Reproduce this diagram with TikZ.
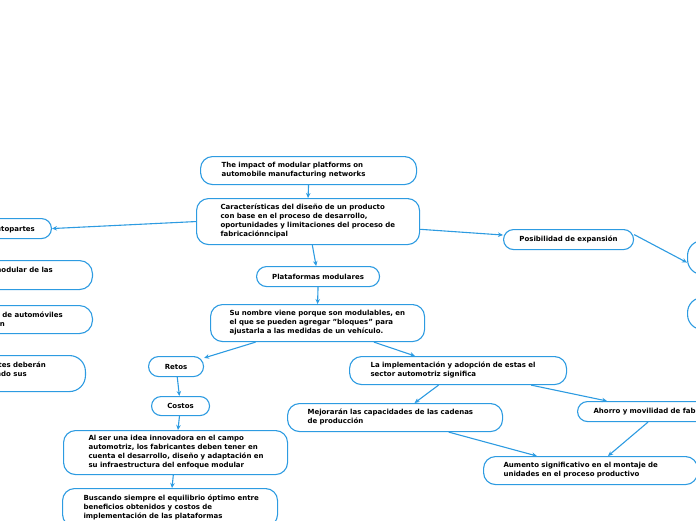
\documentclass[tikz,border=0pt]{standalone}
\usepackage{fontspec}
\setmainfont{DejaVu Sans}
\usetikzlibrary{arrows.meta}
\definecolor{mblue}{RGB}{45,155,225}
\newcommand{\tl}[1]{\begin{tabular}{@{}l@{}}#1\end{tabular}}
\begin{document}
\begin{tikzpicture}[x=1pt,y=-1pt,
  box/.style={draw=mblue, line width=1.1pt, rounded corners=12pt, text=black,
    font=\bfseries\fontsize{7}{8.9}\selectfont, align=left, anchor=north west, inner ysep=0pt},
  cbox/.style={box, align=center},
  ebox/.style={draw=mblue, line width=1.1pt, rounded corners=13pt, inner sep=0pt},
  frag/.style={font=\bfseries\fontsize{7}{8.9}\selectfont, inner sep=0pt, anchor=base east},
  conn/.style={draw=mblue, line width=1.1pt, -{Stealth[length=5pt,width=4.5pt]}}]
\path[use as bounding box, clip] (0,0) rectangle (696,520);

\node[box, minimum height=28pt, inner xsep=21pt, text width=174pt] (title) at (200,156)
  {\tl{The impact of modular platforms on\\automobile manufacturing networks}};
\node[box, minimum height=46pt, inner xsep=24pt, text width=175pt] (car) at (196,198)
  {\tl{Características del diseño de un producto\\con base en el proceso de desarrollo,\\oportunidades y limitaciones del proceso de\\fabricaciónncipal}};
\node[cbox, minimum height=20pt, inner xsep=6pt, text width=111pt, rounded corners=10pt] (plat) at (256,266) {Plataformas modulares};
\node[box, minimum height=37pt, inner xsep=19pt, text width=176pt] (su) at (210,304)
  {\tl{Su nombre viene porque son modulables, en\\el que se pueden agregar "bloques" para\\ajustarla a las medidas de un vehículo.}};
\node[cbox, minimum height=20pt, inner xsep=6pt, text width=118pt, rounded corners=10pt] (pos) at (503,229) {Posibilidad de expansión};
\node[cbox, minimum height=20pt, inner xsep=4pt, text width=47pt, rounded corners=10pt] (retos) at (148,356) {Retos};
\node[cbox, minimum height=19pt, inner xsep=4pt, text width=50pt, rounded corners=9.5pt] (costos) at (151,396) {Costos};
\node[box, minimum height=44pt, inner xsep=25pt, text width=174pt] (alser) at (63,430)
  {\tl{Al ser una idea innovadora en el campo\\automotriz, los fabricantes deben tener en\\cuenta el desarrollo, diseño y adaptación en\\su infraestructura del enfoque modular}};
\node[box, minimum height=38pt, inner xsep=21pt, text width=173pt] (busc) at (62,488)
  {\tl{Buscando siempre el equilibrio óptimo entre\\beneficios obtenidos y costos de\\implementación de las plataformas}};
\node[box, minimum height=28pt, inner xsep=21pt, text width=175pt] (la) at (349,356)
  {\tl{La implementación y adopción de estas el\\sector automotriz significa}};
\node[box, minimum height=28pt, inner xsep=20pt, text width=175pt] (mej) at (287,403)
  {\tl{Mejorarán las capacidades de las cadenas\\de producción}};
\node[box, minimum height=20pt, inner xsep=16pt, text width=128pt, rounded corners=10pt] (aho) at (577,401)
  {\tl{Ahorro y movilidad de fabr}};
\node[box, minimum height=28pt, inner xsep=20pt, text width=174pt] (aum) at (483,456)
  {\tl{Aumento significativo en el montaje de\\unidades en el proceso productivo}};

% cropped left boxes
\node[ebox, anchor=north east, minimum width=120pt, minimum height=20pt, rounded corners=10pt] (auto) at (52,218) {};
\node[frag] (autot) at (35,231) {utopartes};
\node[ebox, anchor=north east, minimum width=150pt, minimum height=29pt] (l2) at (93,260) {};
\node[frag] (l2t) at (53,272) {modular de las};
\node[ebox, anchor=north east, minimum width=150pt, minimum height=28pt] (l3) at (93,305) {};
\node[frag] (l3a) at (63,317) {s de automóviles};
\node[frag] (l3b) at (5,326) {n};
\node[ebox, anchor=north east, minimum width=150pt, minimum height=36pt, rounded corners=16pt] (l4) at (86,355) {};
\node[frag] (l4a) at (46,367) {tes deberán};
\node[frag] (l4b) at (27,376) {ndo sus};
% cropped right boxes
\node[ebox, anchor=north west, minimum width=100pt, minimum height=34pt, rounded corners=15pt] (r1) at (687,240) {};
\node[ebox, anchor=north west, minimum width=100pt, minimum height=32pt, rounded corners=15pt] (r2) at (687,297) {};

% connectors
\draw[conn] (title.south) -- (car.north);
\draw[conn] (car.west) -- (auto.east);
\draw[conn] (car) -- (plat);
\draw[conn] (car) -- (pos);
\draw[conn] ([yshift=5pt]pos.east) -- ([yshift=-5pt]r1.west);
\draw[conn] (plat.south) -- (su.north);
\draw[conn] (su) -- (retos);
\draw[conn] (su) -- (la);
\draw[conn] (retos) -- (costos);
\draw[conn] (costos) -- (alser);
\draw[conn] (alser) -- (busc);
\draw[conn] (la) -- (mej);
\draw[conn] ([xshift=-36pt]la.south east) -- ([xshift=30pt]aho.north west);
\draw[conn] (mej) -- (aum);
\draw[conn] ([xshift=71pt]aho.south west) -- ([xshift=125pt]aum.north west);
\end{tikzpicture}
\end{document}
